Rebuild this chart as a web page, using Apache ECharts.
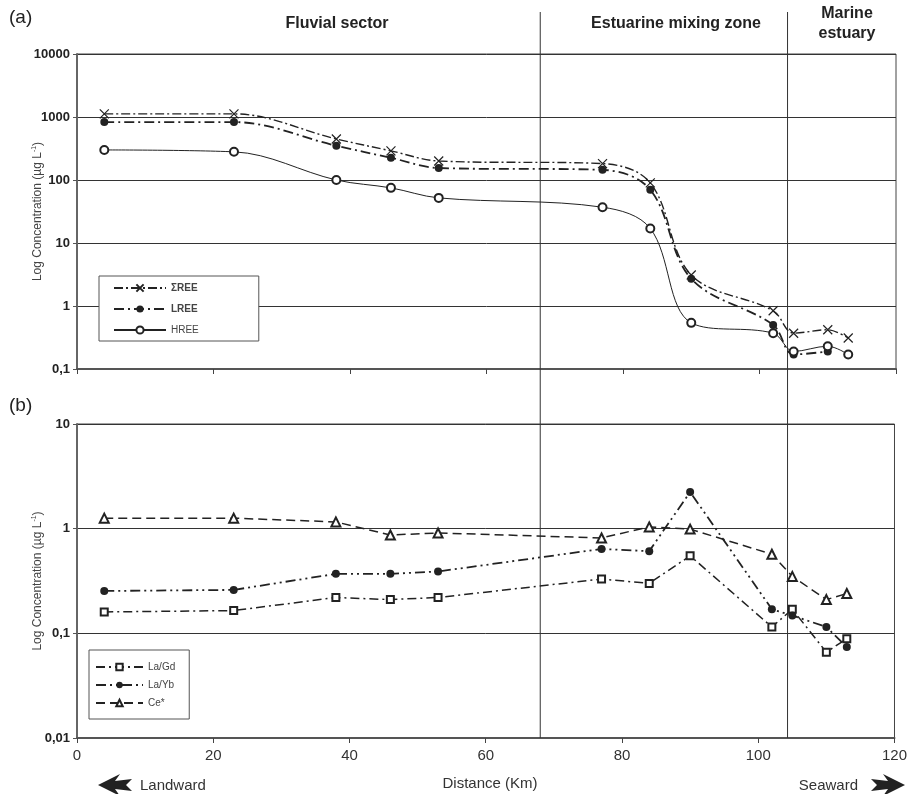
<!DOCTYPE html>
<html><head><meta charset="utf-8">
<script src="https://cdn.jsdelivr.net/npm/echarts@6/dist/echarts.min.js"></script>
<style>html,body{margin:0;padding:0;background:#fff}#c{width:910px;height:794px}</style>
</head><body><div id="c"></div>
<script>
// ---- data ----
const kmA    = [4, 23, 38, 46, 53, 77, 84, 90, 102, 105, 110, 113];
const sumREE = [1120, 1120, 448, 290, 200, 182, 90, 3.1, 0.84, 0.37, 0.42, 0.31];
const kmL    = [4, 23, 38, 46, 53, 77, 84, 90, 102, 105, 110];
const LREE   = [830, 830, 350, 225, 155, 145, 70, 2.7, 0.5, 0.17, 0.19];
const HREE   = [300, 280, 100, 75, 52, 37, 17, 0.54, 0.37, 0.19, 0.23, 0.17];
const kmB    = [4, 23, 38, 46, 53, 77, 84, 90, 102, 105, 110, 113];
const LaGd   = [0.16, 0.165, 0.22, 0.21, 0.22, 0.33, 0.30, 0.55, 0.115, 0.17, 0.066, 0.089];
const LaYb   = [0.254, 0.26, 0.37, 0.37, 0.39, 0.64, 0.61, 2.24, 0.17, 0.148, 0.115, 0.074];
const CeStar = [1.26, 1.26, 1.16, 0.87, 0.91, 0.815, 1.04, 0.99, 0.57, 0.35, 0.21, 0.24];
const zoneBounds = [68, 104.3];
const zoneNames = ['Fluvial sector', 'Estuarine mixing zone', 'Marine\nestuary'];
const xTickLabels = ['0', '20', '40', '60', '80', '100', '120'];

const pairs = (xs, ys) => xs.map((x, i) => [x, ys[i]]);
const INK = '#222';
const fmtLog = v => String(v).replace('.', ',');
const yTitle = {
  name: 'Log Concentration (µg L{s|-1})',
  nameLocation: 'middle', nameGap: 33, nameRotate: 90, nameMoveOverlap: false,
  nameTextStyle: { color: '#444', fontSize: 12, fontFamily: 'Liberation Sans, Arial',
    rich: { s: { fontSize: 7, verticalAlign: 'top', color: '#444', padding: [0, 0, 6, 0] } } }
};
const yCommon = {
  type: 'log', logBase: 10,
  axisLine: { show: true, lineStyle: { color: '#666', width: 2 } },
  axisTick: { show: true, length: 4, lineStyle: { color: '#555' } },
  axisLabel: { formatter: fmtLog, color: '#222', fontWeight: 'bold', fontSize: 13,
    fontFamily: 'Liberation Sans, Arial', margin: 7 },
  splitLine: { show: true, lineStyle: { color: '#333', width: 1 } },
  minorTick: { show: false }
};
const xCommon = {
  type: 'value', min: 0, max: 120, interval: 20,
  axisLine: { show: true, onZero: false, lineStyle: { color: '#555', width: 2 } },
  axisTick: { show: true, length: 5, lineStyle: { color: '#444' } },
  splitLine: { show: false }
};
const xSym = 'path://M0,0L10,10M10,0L0,10';

const option = {
  animation: false,
  backgroundColor: '#fff',
  grid: [
    { left: 77, right: 14, top: 54, height: 315, show: true, borderColor: '#444', borderWidth: 1 },
    { left: 77, right: 14, top: 424, height: 314, show: true, borderColor: '#444', borderWidth: 1 }
  ],
  xAxis: [
    Object.assign({}, xCommon, { gridIndex: 0, axisLabel: { show: false } }),
    Object.assign({}, xCommon, { gridIndex: 1,
      axisLabel: { show: true, color: '#333', fontSize: 15, margin: 10,
        fontFamily: 'Liberation Sans Narrow, Arial Narrow, sans-serif',
        formatter: v => xTickLabels[Math.round(v / 20)] } })
  ],
  yAxis: [
    Object.assign({}, yCommon, yTitle, { gridIndex: 0, min: 0.1, max: 10000, splitNumber: 5 }),
    Object.assign({}, yCommon, yTitle, { gridIndex: 1, min: 0.01, max: 10, splitNumber: 3 })
  ],
  legend: [
    { left: 99, top: 276, orient: 'vertical', itemWidth: 52, itemHeight: 9, itemGap: 11,
      padding: [7, 60, 6, 14], borderColor: '#555', borderWidth: 1, backgroundColor: '#fff',
      textStyle: { color: '#444', fontSize: 10, fontFamily: 'Liberation Sans, Arial' },
      data: [{ name: 'ΣREE', textStyle: { fontWeight: 'bold' } },
             { name: 'LREE', textStyle: { fontWeight: 'bold' } },
             { name: 'HREE' }] },
    { left: 89, top: 650, orient: 'vertical', itemWidth: 47, itemHeight: 8, itemGap: 8,
      padding: [12, 14, 11, 6], borderColor: '#555', borderWidth: 1, backgroundColor: '#fff',
      textStyle: { color: '#444', fontSize: 10, fontFamily: 'Liberation Sans, Arial' },
      data: ['La/Gd', 'La/Yb', 'Ce*'] }
  ],
  series: [
    { name: 'ΣREE', type: 'line', xAxisIndex: 0, yAxisIndex: 0, smooth: 0.35,
      data: pairs(kmA, sumREE), symbol: xSym, symbolSize: 9,
      itemStyle: { color: INK, borderColor: INK, borderWidth: 1.2 },
      lineStyle: { color: INK, width: 1.4, type: [9, 3, 2, 3] }, z: 3 },
    { name: 'LREE', type: 'line', xAxisIndex: 0, yAxisIndex: 0, smooth: 0.35,
      data: pairs(kmL, LREE), symbol: 'circle', symbolSize: 8,
      itemStyle: { color: INK },
      lineStyle: { color: INK, width: 1.8, type: [10, 4, 2, 4] }, z: 3 },
    { name: 'HREE', type: 'line', xAxisIndex: 0, yAxisIndex: 0, smooth: 0.35,
      data: pairs(kmA, HREE), symbol: 'emptyCircle', symbolSize: 8,
      itemStyle: { color: INK, borderColor: INK, borderWidth: 1.2 },
      lineStyle: { color: INK, width: 1 }, z: 3 },
    { name: 'La/Gd', type: 'line', xAxisIndex: 1, yAxisIndex: 1,
      data: pairs(kmB, LaGd), symbol: 'emptyRect', symbolSize: 7,
      itemStyle: { color: INK, borderColor: INK, borderWidth: 1 },
      lineStyle: { color: INK, width: 1.5, type: [9, 4, 2, 4] }, z: 3 },
    { name: 'La/Yb', type: 'line', xAxisIndex: 1, yAxisIndex: 1,
      data: pairs(kmB, LaYb), symbol: 'circle', symbolSize: 8,
      itemStyle: { color: INK },
      lineStyle: { color: INK, width: 1.8, type: [10, 4, 2, 4, 2, 4] }, z: 3 },
    { name: 'Ce*', type: 'line', xAxisIndex: 1, yAxisIndex: 1,
      data: pairs(kmB, CeStar), symbol: 'emptyTriangle', symbolSize: 9,
      itemStyle: { color: INK, borderColor: INK, borderWidth: 1.2 },
      lineStyle: { color: INK, width: 1.5, type: [9, 5] }, z: 3 }
  ]
};

const chart = echarts.init(document.getElementById('c'), null, { renderer: 'canvas' });
chart.setOption(option);

// zone boundary lines through both panels, positioned via the axis scale
const xb = zoneBounds.map(v => chart.convertToPixel({ xAxisIndex: 1 }, v));
const yBottom = chart.convertToPixel({ yAxisIndex: 1 }, 0.01);
const gfx = [];
xb.forEach(x => gfx.push({ type: 'line', shape: { x1: x, y1: 12, x2: x, y2: yBottom },
  style: { stroke: '#333', lineWidth: 1 }, z: 1 }));

const tFont = 'Liberation Sans, Arial';
gfx.push({ type: 'text', left: 9, top: 8, style: { text: '(a)', font: '19px ' + tFont, fill: '#222' } });
gfx.push({ type: 'text', left: 9, top: 396, style: { text: '(b)', font: '19px ' + tFont, fill: '#222' } });
const zx = [337, 676, 847];
const zy = [24, 24, 24];
zoneNames.forEach((t, i) => gfx.push({ type: 'text', x: zx[i], y: zy[i],
  style: { text: t, font: 'bold 16px ' + tFont, fill: '#222', align: 'center', verticalAlign: 'middle', lineHeight: 20 } }));
const nFont = '15px Liberation Sans Narrow, Arial Narrow, sans-serif';
gfx.push({ type: 'text', x: 490, y: 784, style: { text: 'Distance (Km)', font: nFont, fill: '#333', align: 'center', verticalAlign: 'middle' } });
gfx.push({ type: 'text', x: 140, y: 786, style: { text: 'Landward', font: nFont, fill: '#333', align: 'left', verticalAlign: 'middle' } });
gfx.push({ type: 'text', x: 858, y: 786, style: { text: 'Seaward', font: nFont, fill: '#333', align: 'right', verticalAlign: 'middle' } });
const arrowPts = [[0, 0], [22, -11], [17, -4], [34, -6], [28, 0], [34, 6], [17, 4], [22, 11]];
gfx.push({ type: 'polygon', shape: { points: arrowPts.map(p => [98 + p[0], 785 + p[1]]) }, style: { fill: '#222' } });
gfx.push({ type: 'polygon', shape: { points: arrowPts.map(p => [905 - p[0], 785 + p[1]]) }, style: { fill: '#222' } });
chart.setOption({ graphic: gfx });
</script></body></html>
